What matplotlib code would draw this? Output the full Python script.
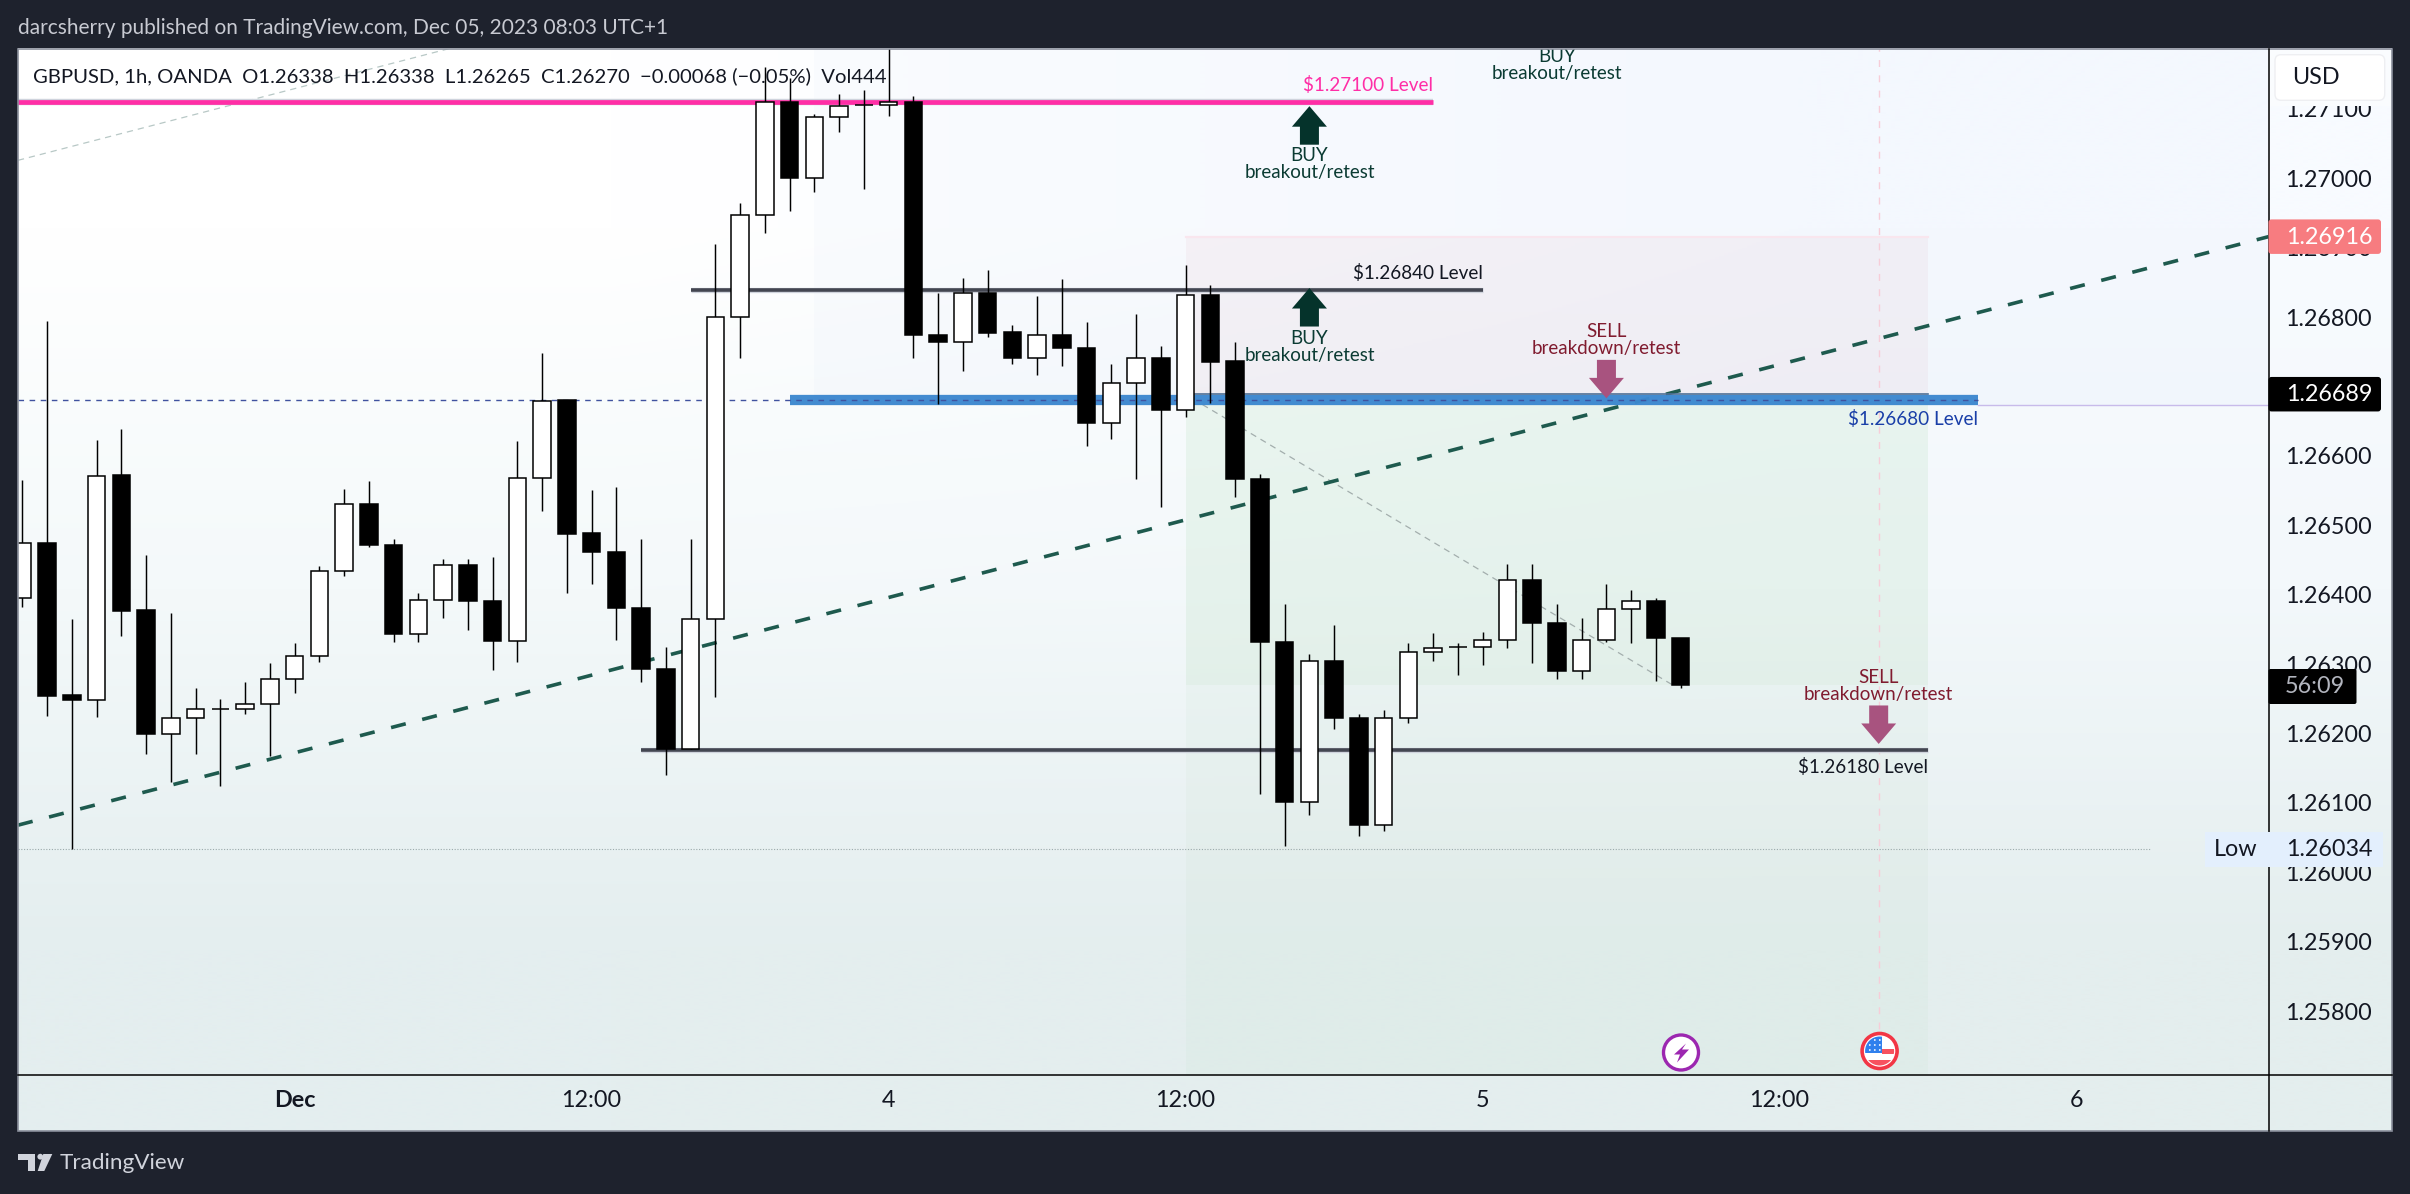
import numpy as np
import matplotlib
matplotlib.use('Agg')
import matplotlib.pyplot as plt
from matplotlib.colors import to_rgb
from matplotlib.patches import Polygon, Rectangle, Circle, FancyBboxPatch

# hourly candles
opens = [1.26395, 1.26474, 1.26255, 1.26249, 1.26572, 1.26378, 1.26199, 1.26222, 1.26235, 1.26235,
         1.26242, 1.26279, 1.26312, 1.26434, 1.26531, 1.26471, 1.26343, 1.26392, 1.26443, 1.26391,
         1.26334, 1.26568, 1.26680, 1.26489, 1.26461, 1.26381, 1.26293, 1.26178, 1.26365, 1.26800,
         1.26947, 1.27110, 1.27000, 1.27088, 1.27106, 1.27106, 1.27110, 1.26774, 1.26764, 1.26835,
         1.26778, 1.26741, 1.26775, 1.26755, 1.26647, 1.26705, 1.26741, 1.26666, 1.26832, 1.26737,
         1.26567, 1.26332, 1.26102, 1.26304, 1.26223, 1.26068, 1.26223, 1.26317, 1.26325, 1.26325,
         1.26335, 1.26421, 1.26360, 1.26290, 1.26335, 1.26379, 1.26391, 1.26338]
highs = [1.26566, 1.26794, 1.26365, 1.26623, 1.26639, 1.26458, 1.26374, 1.26266, 1.26250, 1.26274,
         1.26302, 1.26331, 1.26441, 1.26553, 1.26564, 1.26481, 1.26403, 1.26452, 1.26452, 1.26455,
         1.26622, 1.26749, 1.26681, 1.26551, 1.26556, 1.26481, 1.26325, 1.26480, 1.26906, 1.26964,
         1.27161, 1.27145, 1.27093, 1.27121, 1.27128, 1.27190, 1.27119, 1.26835, 1.26857, 1.26868,
         1.26789, 1.26830, 1.26855, 1.26793, 1.26732, 1.26804, 1.26758, 1.26875, 1.26846, 1.26764,
         1.26574, 1.26387, 1.26315, 1.26357, 1.26228, 1.26234, 1.26330, 1.26345, 1.26331, 1.26347,
         1.26444, 1.26445, 1.26386, 1.26367, 1.26416, 1.26407, 1.26395, 1.26338]
lows = [1.26383, 1.26226, 1.26034, 1.26224, 1.26341, 1.26171, 1.26130, 1.26170, 1.26124, 1.26228,
        1.26168, 1.26258, 1.26303, 1.26427, 1.26469, 1.26332, 1.26332, 1.26366, 1.26349, 1.26291,
        1.26303, 1.26520, 1.26403, 1.26416, 1.26335, 1.26274, 1.26140, 1.26178, 1.26253, 1.26741,
        1.26922, 1.26953, 1.26980, 1.27067, 1.26984, 1.27090, 1.26741, 1.26675, 1.26723, 1.26772,
        1.26732, 1.26716, 1.26729, 1.26615, 1.26624, 1.26567, 1.26527, 1.26656, 1.26676, 1.26541,
        1.26113, 1.26038, 1.26082, 1.26206, 1.26053, 1.26060, 1.26215, 1.26304, 1.26284, 1.26299,
        1.26323, 1.26301, 1.26278, 1.26279, 1.26332, 1.26330, 1.26276, 1.26265]
closes = [1.26474, 1.26254, 1.26249, 1.26571, 1.26377, 1.26199, 1.26222, 1.26235, 1.26235, 1.26242,
          1.26279, 1.26312, 1.26434, 1.26531, 1.26471, 1.26343, 1.26392, 1.26443, 1.26391, 1.26334,
          1.26568, 1.26679, 1.26488, 1.26461, 1.26381, 1.26293, 1.26178, 1.26365, 1.26800, 1.26947,
          1.27110, 1.27000, 1.27088, 1.27104, 1.27106, 1.27110, 1.26774, 1.26764, 1.26835, 1.26777,
          1.26741, 1.26774, 1.26755, 1.26647, 1.26705, 1.26741, 1.26666, 1.26832, 1.26736, 1.26567,
          1.26332, 1.26102, 1.26304, 1.26223, 1.26068, 1.26223, 1.26317, 1.26323, 1.26325, 1.26335,
          1.26421, 1.26360, 1.26290, 1.26335, 1.26379, 1.26391, 1.26337, 1.26270]

# 1.26700 sits fully behind the current price tag in the reference
price_ticks = [1.271, 1.270, 1.269, 1.268, 1.266, 1.265, 1.264, 1.263, 1.262, 1.261, 1.260, 1.259, 1.258]
time_ticks = [11, 23, 35, 47, 59, 71, 83]
time_labels = ['Dec', '12:00', '4', '12:00', '5', '12:00', '6']

level_prices = [1.27110, 1.26839, 1.26177]
level_starts = [-1, 27, 25]
level_ends = [57, 59, 77]
level_colors = ['#ff2ea6', '#434651', '#434651']
blue_price = 1.26680
blue_range = [31, 79]

level_texts = ['$1.27100 Level', '$1.26840 Level', '$1.26680 Level', '$1.26180 Level']
level_text_x = [57, 59, 79, 77]
level_text_y = [1.27134, 1.26863, 1.26653, 1.26152]
level_text_colors = ['#ff2ea6', '#131722', '#1a3fa8', '#131722']

trend_x = [-0.18, 90.75]
trend_y = [1.26068, 1.26916]
helper1_x = [-0.18, 17.24]
helper1_y = [1.27026, 1.27187]
helper2_x = [47.68, 66.77]
helper2_y = [1.26674, 1.26268]

entry_price = 1.26689
stop_price = 1.26916
last_close = 1.26270
low_price = 1.26034
position_range = [47, 77]
zone_start = 32
event_x = 75

buy_x = [52, 52]
buy_tips = [1.27104, 1.26842]
buy_label_x = [52, 52, 62]
buy_label_y = [1.270205, 1.267565, 1.271635]
sell_x = [64, 75]
sell_tips = [1.26683, 1.26185]
sell_label_y = [1.267675, 1.26269]

bg_colors = [['#ffffff', '#f8fbff'], ['#f4f9fa', '#f3f8fb'], ['#e4eeef', '#e4eeee']]

plt.rcParams['font.family'] = ['Lato', 'DejaVu Sans']

W, H = 2410, 1194
dark = '#1e222d'
fig = plt.figure(figsize=(W / 100, H / 100), dpi=100, facecolor=dark)

# px layout of the panel
left, top, right, bottom = 18, 48.6, 2268.5, 1075
panel_r, panel_b = 2392, 1131

back = fig.add_axes([0, 0, 1, 1], zorder=0)
back.axis('off')
grad = np.array([[to_rgb(c) for c in row] for row in bg_colors])
back.imshow(grad, extent=(left, panel_r, panel_b, top), interpolation='bilinear', aspect='auto')
back.set_xlim(0, W)
back.set_ylim(H, 0)

ax = fig.add_axes([left / W, (H - bottom) / H, (right - left) / W, (bottom - top) / H], zorder=1)
ax.patch.set_alpha(0)
ax.set_xlim(-0.178, 90.75)
ax.set_ylim(1.25708, 1.27187)

ov = fig.add_axes([0, 0, 1, 1], zorder=2)
ov.patch.set_alpha(0)
ov.set_xlim(0, W)
ov.set_ylim(H, 0)
ov.axis('off')

# position boxes
ax.axvspan(zone_start, 90.75, ymin=(1.26674 - 1.25708) / (1.27187 - 1.25708), color='#3f6fe8', alpha=0.02, lw=0, zorder=1)
ax.add_patch(Rectangle((position_range[0], entry_price), position_range[1] - position_range[0], stop_price - entry_price,
                       facecolor='#c05070', alpha=0.05, lw=0, zorder=1.1))
ax.add_patch(Rectangle((position_range[0], last_close), position_range[1] - position_range[0], entry_price - last_close,
                       facecolor='#4caf50', alpha=0.08, lw=0, zorder=1.1))
ax.add_patch(Rectangle((position_range[0], 1.25708), position_range[1] - position_range[0], last_close - 1.25708,
                       facecolor='#4caf50', alpha=0.03, lw=0, zorder=1.1))
ax.plot(position_range, [stop_price, stop_price], color='#f9e6ee', lw=1.6, zorder=1.2)

ax.plot([event_x, event_x], [1.25775, 1.27187], color='#f7cdd8', lw=1, dashes=(5, 6), zorder=1.3)
ax.plot([-0.18, 86], [low_price, low_price], color='#9aa9aa', lw=0.8, dashes=(1, 1.5), zorder=1.3)
ax.plot(helper1_x, helper1_y, color='#b8c8c6', lw=0.9, dashes=(5, 4), zorder=1.3)
ax.plot(helper2_x, helper2_y, color='#a3aead', lw=0.9, dashes=(5, 4), zorder=1.3)
ax.plot(trend_x, trend_y, color='#1e5a4e', lw=2.6, dashes=(4.2, 4.7), zorder=2)

for p, s, e, c in zip(level_prices, level_starts, level_ends, level_colors):
    ax.plot([s, e], [p, p], color='#cfd3dc', lw=4.6 if c == '#ff2ea6' else 3.8, solid_capstyle='butt', zorder=2.4)
    ax.plot([s, e], [p, p], color=c, lw=3.4 if c == '#ff2ea6' else 2.6, solid_capstyle='butt', zorder=2.5)

ax.plot(blue_range, [blue_price, blue_price], color='#3d88cf', lw=7.4, alpha=0.97, solid_capstyle='butt', zorder=2.6)
ax.plot(position_range, [entry_price, entry_price], color='#4f6f95', lw=1.2, zorder=2.7)
ax.plot([-0.18, blue_range[1]], [1.26681, 1.26681], color='#40529f', lw=1, dashes=(4, 4), zorder=2.8)
ax.plot([blue_range[1], 90.75], [1.26674, 1.26674], color='#c8bbea', lw=1, zorder=2.8)

ax.text(32.6, 75.8, 'GBPUSD, 1h, OANDA  O1.26338  H1.26338  L1.26265  C1.26270  \u22120.00068 (\u22120.05%)  Vol444',
        transform=ov.transData, fontsize=14.55, color='#131722', va='center', ha='left', zorder=2.9)

# candles
xs = np.arange(len(opens))
o = np.array(opens)
c = np.array(closes)
ax.vlines(xs, lows, highs, color='black', lw=1.05, zorder=3)
body_colors = ['white' if cl > op else 'black' for op, cl in zip(o, c)]
ax.bar(xs, np.abs(c - o), bottom=np.minimum(o, c), width=0.71, color=body_colors, edgecolor='black', linewidth=1.1, zorder=3.1)

for t, x, y, col in zip(level_texts, level_text_x, level_text_y, level_text_colors):
    ax.text(x, y, t, color=col, fontsize=13.6, ha='right', va='center', zorder=4)
for x, y in zip(buy_label_x, buy_label_y):
    ax.text(x, y, 'BUY\nbreakout/retest', color='#0b3b33', fontsize=13.5, ha='center', va='center',
            multialignment='center', linespacing=1.0, zorder=4, clip_on=True)
for x, y in zip(sell_x, sell_label_y):
    ax.text(x, y, 'SELL\nbreakdown/retest', color='#801b2f', fontsize=13.5, ha='center', va='center',
            multialignment='center', linespacing=1.0, zorder=4)

# axes
ax.yaxis.tick_right()
ax.set_yticks(price_ticks)
ax.set_yticklabels(['%.5f' % p for p in price_ticks], fontsize=16.8, color='#131722')
ax.set_xticks(time_ticks)
ax.set_xticklabels(time_labels, fontsize=16.8, color='#131722')
ax.get_xticklabels()[0].set_fontweight('bold')
ax.tick_params(axis='y', length=0, pad=12)
ax.tick_params(axis='x', length=0, pad=11)
for s in ax.spines.values():
    s.set_visible(False)


def to_px(x, y):
    dx, dy = ax.transData.transform((x, y))
    return dx, H - dy


def arrow(x, tip, up, color):
    px, py = to_px(x, tip)
    d = 1 if up else -1
    shape = [(0, 0), (17.5, 20.5), (9.5, 20.5), (9.5, 38.5), (-9.5, 38.5), (-9.5, 20.5), (-17.5, 20.5)]
    ov.add_patch(Polygon([(px + a, py + d * b) for a, b in shape], facecolor=color, lw=0, zorder=5))


for x, p in zip(buy_x, buy_tips):
    arrow(x, p, True, '#05332b')
for x, p in zip(sell_x, sell_tips):
    arrow(x, p, False, '#a8537f')

# panel frame
ov.add_patch(Rectangle((left, top), panel_r - left, panel_b - top, fill=False, edgecolor='#8b909c', lw=1.2, zorder=6))
ov.plot([right, right], [top, panel_b], color='black', lw=1.1, zorder=6)
ov.plot([left, panel_r], [bottom, bottom], color='black', lw=1.1, zorder=6)


def price_box(p, text, bg, fg, x1=2383, h=34.5):
    _, py = to_px(0, p)
    ov.add_patch(FancyBboxPatch((right, py - h / 2), x1 - right - 2, h, boxstyle='round,pad=0,rounding_size=3',
                                facecolor=bg, lw=0, zorder=7))
    ov.text(2329, py + 0.5, text, color=fg, fontsize=16.8, ha='center', va='center', zorder=8)


price_box(1.26916, '1.26916', '#f77c80', 'white')
price_box(1.26689, '1.26689', 'black', 'white')

# countdown
ov.add_patch(FancyBboxPatch((right, 669), 88, 35, boxstyle='round,pad=0,rounding_size=2', facecolor='black', lw=0, zorder=7))
ov.text(2315, 686.5, '56:09', color='#b2b5be', fontsize=16.8, ha='center', va='center', zorder=8)

# low marker
ov.add_patch(Rectangle((2204.5, 832), 178.5, 35, facecolor='#e3effd', lw=0, zorder=7))
ov.text(2236, 849.5, 'Low', color='#131722', fontsize=16.8, ha='center', va='center', zorder=8)
ov.text(2329, 849.5, '1.26034', color='#131722', fontsize=16.8, ha='center', va='center', zorder=8)

# currency button, its strip also hides the top of the first price label
ov.add_patch(Rectangle((right + 1, top + 1), panel_r - right - 2, 105 - top, facecolor='#fafcfe', lw=0, zorder=6.5))
ov.add_patch(FancyBboxPatch((2275, 54.7), 109.7, 45.6, boxstyle='round,pad=0,rounding_size=6', facecolor='white',
                            edgecolor='#eeeff2', lw=1, zorder=7))
ov.text(2291.7, 77, 'USD', color='#131722', fontsize=16.8, ha='left', va='center', zorder=8)

# event icons
fx, fy = 1681, 1052.5
ov.add_patch(Circle((fx, fy), 17.5, facecolor='white', edgecolor='#9c27b0', lw=2.4, zorder=7))
ov.add_patch(Polygon([(fx + 5, fy - 9), (fx - 7, fy + 2), (fx - 1, fy + 2), (fx - 4, fy + 10), (fx + 8, fy - 3), (fx + 1, fy - 3)],
                     facecolor='#9c27b0', lw=0, zorder=8))

ux, uy = 1879.6, 1051
ov.add_patch(Circle((ux, uy), 17.5, facecolor='white', edgecolor='#f23645', lw=2.6, zorder=7))
clip = Circle((ux, uy), 14.5, transform=ov.transData)
flag_parts = [((ux + 2, uy - 2), 15, 5, '#f7525f'), ((ux - 15, uy + 9), 30, 6, '#f7525f'), ((ux - 15, uy - 15), 17, 17, '#2f80ed')]
for xy, fw, fh, col in flag_parts:
    part = Rectangle(xy, fw, fh, facecolor=col, lw=0, zorder=8)
    ov.add_patch(part)
    part.set_clip_path(clip)
for dx_, dy_ in [(-10, -6), (-5, -6), (0, -6), (-10, -1), (-5, -1), (0, -1), (-5, -11), (0, -11)]:
    ov.add_patch(Circle((ux + dx_ + 0.2, uy + dy_), 0.9, facecolor='white', lw=0, zorder=8.5))

# header and footer
ov.text(18, 28, 'darcsherry published on TradingView.com, Dec 05, 2023 08:03 UTC+1', color='#c8cad2', fontsize=15,
        ha='left', va='center', zorder=8)
logo = '#d1d4dc'
ov.add_patch(Polygon([(18, 1154), (35, 1154), (35, 1171), (28.3, 1171), (28.3, 1159.5), (18, 1159.5)], facecolor=logo, lw=0))
ov.add_patch(Circle((40.3, 1156.7), 2.9, facecolor=logo, lw=0))
ov.add_patch(Polygon([(43.3, 1154), (52.3, 1154), (44.3, 1171), (37.7, 1171)], facecolor=logo, lw=0))
ov.text(60, 1163, 'TradingView', color=logo, fontsize=16.2, ha='left', va='center')

fig.savefig('out.png', dpi=100, facecolor=dark)
